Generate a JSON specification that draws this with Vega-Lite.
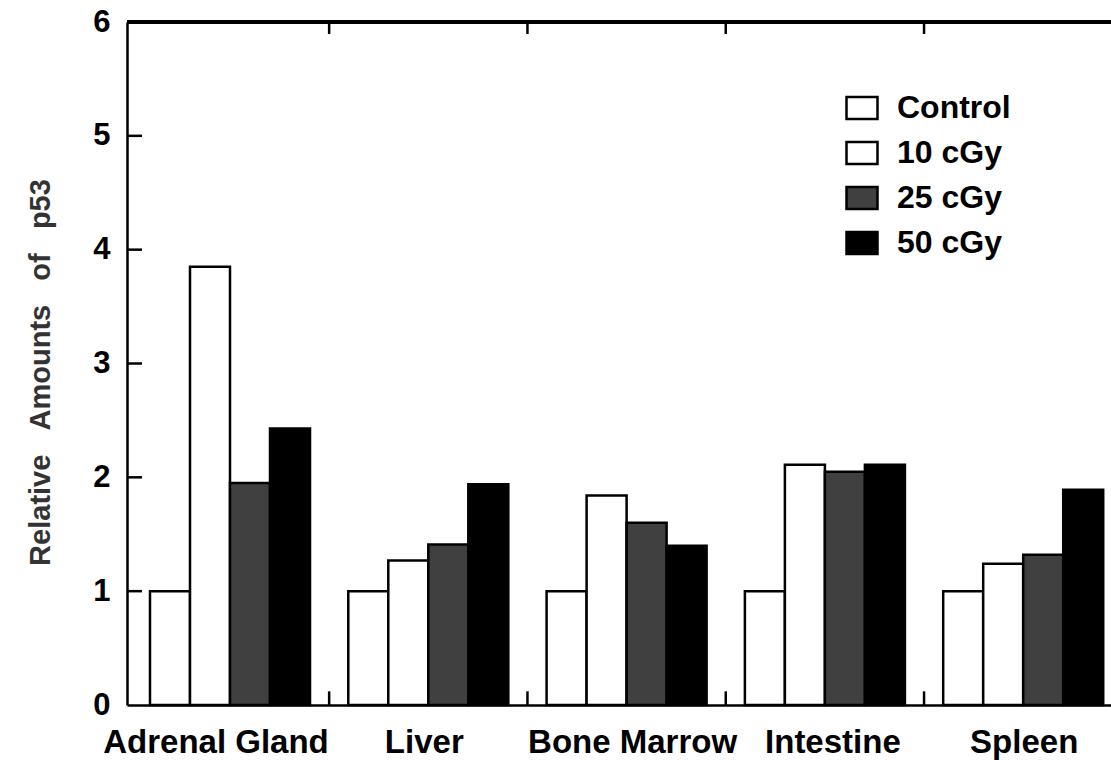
{
  "$schema": "https://vega.github.io/schema/vega-lite/v6.json",
  "width": 984,
  "height": 683,
  "autosize": {"type": "none"},
  "padding": {"left": 127, "top": 22, "right": 0, "bottom": 55},
  "background": "white",
  "config": {"view": {"stroke": null}, "font": "Liberation Sans"},
  "data": {
    "values": [
      {"tissue": "Adrenal Gland", "dose": "Control", "value": 1.0},
      {"tissue": "Adrenal Gland", "dose": "10 cGy", "value": 3.85},
      {"tissue": "Adrenal Gland", "dose": "25 cGy", "value": 1.95},
      {"tissue": "Adrenal Gland", "dose": "50 cGy", "value": 2.43},
      {"tissue": "Liver", "dose": "Control", "value": 1.0},
      {"tissue": "Liver", "dose": "10 cGy", "value": 1.27},
      {"tissue": "Liver", "dose": "25 cGy", "value": 1.41},
      {"tissue": "Liver", "dose": "50 cGy", "value": 1.94},
      {"tissue": "Bone Marrow", "dose": "Control", "value": 1.0},
      {"tissue": "Bone Marrow", "dose": "10 cGy", "value": 1.84},
      {"tissue": "Bone Marrow", "dose": "25 cGy", "value": 1.6},
      {"tissue": "Bone Marrow", "dose": "50 cGy", "value": 1.4},
      {"tissue": "Intestine", "dose": "Control", "value": 1.0},
      {"tissue": "Intestine", "dose": "10 cGy", "value": 2.11},
      {"tissue": "Intestine", "dose": "25 cGy", "value": 2.05},
      {"tissue": "Intestine", "dose": "50 cGy", "value": 2.11},
      {"tissue": "Spleen", "dose": "Control", "value": 1.0},
      {"tissue": "Spleen", "dose": "10 cGy", "value": 1.24},
      {"tissue": "Spleen", "dose": "25 cGy", "value": 1.32},
      {"tissue": "Spleen", "dose": "50 cGy", "value": 1.89}
    ]
  },
  "layer": [
    {
      "mark": {"type": "bar", "stroke": "black", "strokeWidth": 2.5},
      "encoding": {
        "x": {
          "field": "tissue",
          "type": "nominal",
          "sort": ["Adrenal Gland", "Liver", "Bone Marrow", "Intestine", "Spleen"],
          "scale": {"paddingInner": 0.193, "paddingOuter": 0.0776, "align": 0.747},
          "axis": {
            "orient": "bottom",
            "title": null,
            "labelAngle": 0,
            "labelLimit": 0,
            "labelOverlap": false,
            "domainColor": "black",
            "domainWidth": 2.5,
            "ticks": false,
            "tickSize": 0,
            "labelOffset": {
              "condition": [
                {"test": "datum.value === 'Adrenal Gland'", "value": -14},
                {"test": "datum.value === 'Liver'", "value": -4},
                {"test": "datum.value === 'Bone Marrow'", "value": 6},
                {"test": "datum.value === 'Intestine'", "value": 8}
              ],
              "value": 1
            },
            "labelPadding": 21,
            "labelFontSize": 33,
            "labelFontWeight": "bold",
            "labelColor": "black",
            "labelFont": "Liberation Sans"
          }
        },
        "xOffset": {
          "field": "dose",
          "type": "nominal",
          "sort": ["Control", "10 cGy", "25 cGy", "50 cGy"],
          "scale": {"paddingInner": 0, "paddingOuter": 0}
        },
        "y": {
          "field": "value",
          "type": "quantitative",
          "scale": {"domain": [0, 6], "nice": false},
          "axis": {
            "values": [0, 1, 2, 3, 4, 5, 6],
            "format": "d",
            "grid": false,
            "title": "Relative\u00a0\u00a0\u00a0Amounts\u00a0\u00a0\u00a0of\u00a0\u00a0\u00a0p53",
            "titleFontSize": 29,
            "titleFontWeight": "bold",
            "titleColor": "#333333",
            "titleFont": "Liberation Sans",
            "titleAngle": -90,
            "titleAlign": "center",
            "titleBaseline": "middle",
            "titleX": -87,
            "titleY": 350,
            "domainColor": "black",
            "domainWidth": 2.5,
            "ticks": false,
            "labelPadding": 17,
            "labelFontSize": 31,
            "labelFontWeight": "bold",
            "labelColor": "black",
            "labelFont": "Liberation Sans"
          }
        },
        "fill": {
          "field": "dose",
          "type": "nominal",
          "scale": {
            "domain": ["Control", "10 cGy", "25 cGy", "50 cGy"],
            "range": ["white", "white", "#404040", "black"]
          },
          "legend": {
            "orient": "none",
            "legendX": 719,
            "legendY": 70,
            "title": null,
            "padding": 0,
            "symbolType": "M-1.4,-1H1.4V1H-1.4Z",
            "symbolSize": 490,
            "symbolStrokeColor": "black",
            "symbolStrokeWidth": 2.5,
            "symbolOpacity": 1,
            "labelFontSize": 32,
            "labelFontWeight": "bold",
            "labelColor": "black",
            "labelFont": "Liberation Sans",
            "labelOffset": 19,
            "rowPadding": 11
          }
        }
      }
    },
    {
      "mark": {"type": "rule", "color": "black", "strokeWidth": 2.5},
      "encoding": {
        "y": {"datum": 6, "type": "quantitative", "axis": null}
      }
    },
    {
      "data": {"values": [{"tick": 1}, {"tick": 2}, {"tick": 3}, {"tick": 4}, {"tick": 5}]},
      "mark": {"type": "rule", "color": "black", "strokeWidth": 2.5, "xOffset": -103, "x2Offset": -88},
      "encoding": {
        "x": {"datum": "Adrenal Gland", "type": "nominal"},
        "x2": {"datum": "Adrenal Gland"},
        "y": {"field": "tick", "type": "quantitative", "axis": null}
      }
    },
    {
      "transform": [{"filter": "datum.dose === 'Control' && datum.tissue !== 'Adrenal Gland'"}],
      "mark": {"type": "rule", "color": "black", "strokeWidth": 2.5, "xOffset": -99.15},
      "encoding": {
        "x": {"field": "tissue", "type": "nominal", "sort": ["Adrenal Gland", "Liver", "Bone Marrow", "Intestine", "Spleen"]},
        "y": {"datum": 0, "type": "quantitative", "axis": null},
        "y2": {"datum": 0.12}
      }
    },
    {
      "transform": [{"filter": "datum.dose === 'Control' && datum.tissue !== 'Adrenal Gland'"}],
      "mark": {"type": "rule", "color": "black", "strokeWidth": 2.5, "xOffset": -99.15},
      "encoding": {
        "x": {"field": "tissue", "type": "nominal", "sort": ["Adrenal Gland", "Liver", "Bone Marrow", "Intestine", "Spleen"]},
        "y": {"datum": 6, "type": "quantitative", "axis": null},
        "y2": {"datum": 5.895}
      }
    }
  ],
  "resolve": {"axis": {"y": "independent"}}
}
